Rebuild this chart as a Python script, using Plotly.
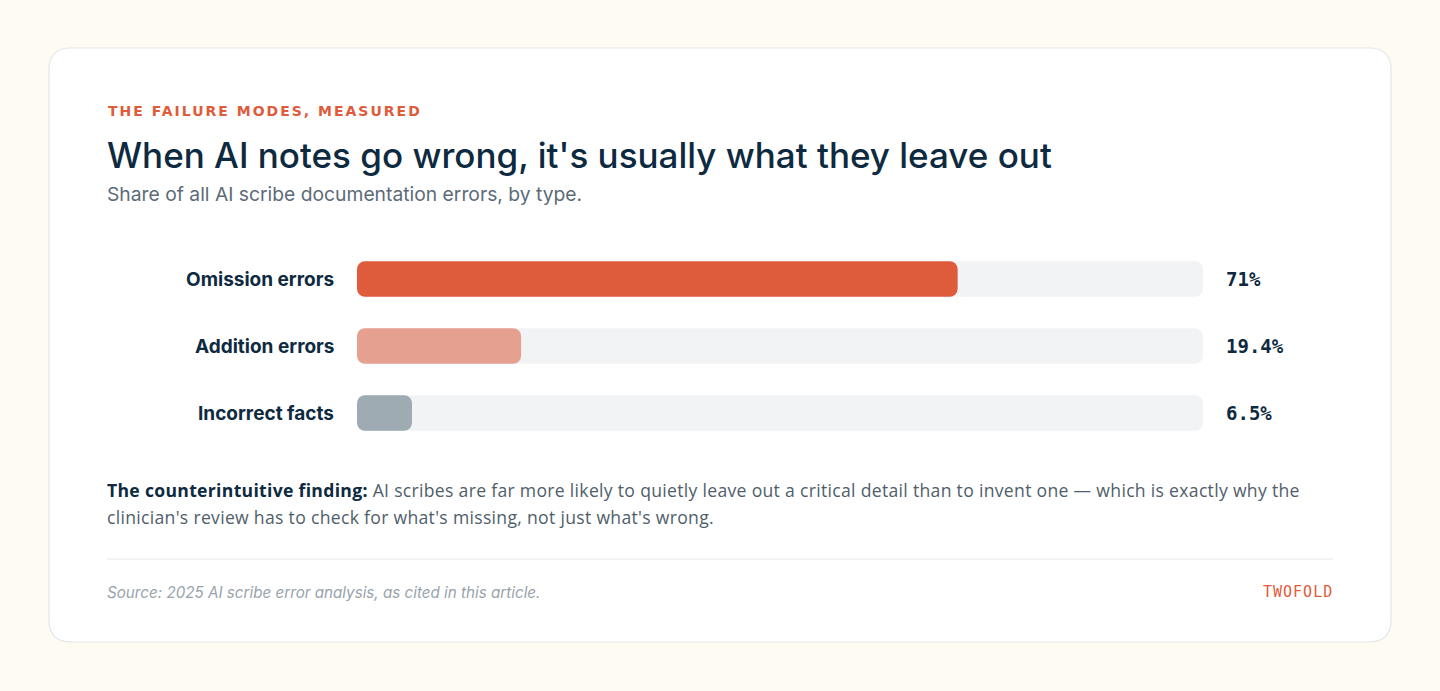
import plotly.graph_objects as go

W, H = 1440, 691

categories = ["Omission errors", "Addition errors", "Incorrect facts"]
values = [71, 19.4, 6.5]
value_labels = ["71%", "19.4%", "6.5%"]
bar_colors = ["#de5b3b", "#e6a08f", "#9eabb3"]
track_max = [100, 100, 100]

def px(x):
    return x / W

def py(y):
    return 1 - y / H

fig = go.Figure()

def rounded_bar(vals, colors):
    fig.add_trace(go.Bar(
        y=categories, x=vals, base=[0] * len(vals), orientation="h",
        marker=dict(color=colors, cornerradius=8, line=dict(width=0)),
        width=0.53, hoverinfo="skip", showlegend=False,
    ))

rounded_bar(track_max, "#f1f3f5")
rounded_bar(values, bar_colors)

navy = "#0d2a40"
orange = "#de5b3b"
body_color = "#4f5e6a"

annotations = []
for c, lab in zip(categories, value_labels):
    annotations.append(dict(
        x=0, y=c, xref="x", yref="y", xanchor="right", yanchor="middle",
        xshift=-21, text=f"<b>{c}</b>", showarrow=False,
        font=dict(family="Inter", size=19, color=navy),
    ))
    annotations.append(dict(
        x=100, y=c, xref="x", yref="y", xanchor="left", yanchor="middle",
        xshift=21, text=lab, showarrow=False,
        font=dict(family="DejaVu Sans Mono", size=19, color=navy, weight=600),
    ))

annotations += [
    dict(x=px(106), y=py(111), xref="paper", yref="paper", xanchor="left", yanchor="middle",
         text="<span style='letter-spacing:2px'><b>THE FAILURE MODES, MEASURED</b></span>", showarrow=False,
         font=dict(family="DejaVu Sans", size=14, color=orange)),
    dict(x=px(105), y=py(155), xref="paper", yref="paper", xanchor="left", yanchor="middle",
         text="When AI notes go wrong, it's usually what they leave out", showarrow=False,
         font=dict(family="Inter", size=35, color=navy, weight=500)),
    dict(x=px(105), y=py(194), xref="paper", yref="paper", xanchor="left", yanchor="middle",
         text="Share of all AI scribe documentation errors, by type.", showarrow=False,
         font=dict(family="Inter", size=19.3, color="#5c6b78")),
    dict(x=px(105), y=py(490), xref="paper", yref="paper", xanchor="left", yanchor="middle",
         text="<span style='letter-spacing:0.3px'><b><span style='color:%s'>The counterintuitive finding:</span></b> AI scribes are far more likely to quietly leave out a critical detail than to invent one — which is exactly why the</span>" % navy,
         showarrow=False, font=dict(family="Open Sans", size=17.6, color=body_color)),
    dict(x=px(105), y=py(517), xref="paper", yref="paper", xanchor="left", yanchor="middle",
         text="<span style='letter-spacing:0.3px'>clinician's review has to check for what's missing, not just what's wrong.</span>",
         showarrow=False, font=dict(family="Open Sans", size=17.6, color=body_color)),
    dict(x=px(105), y=py(592), xref="paper", yref="paper", xanchor="left", yanchor="middle",
         text="<i>Source: 2025 AI scribe error analysis, as cited in this article.</i>",
         showarrow=False, font=dict(family="Inter", size=15.2, color="#98a3ad")),
    dict(x=px(1335), y=py(592), xref="paper", yref="paper", xanchor="right", yanchor="middle",
         text="<span style='letter-spacing:1px'>TWOFOLD</span>", showarrow=False,
         font=dict(family="DejaVu Sans Mono", size=15, color=orange)),
]

x0, x1, y0, y1, r = 49, 1391, 48, 642, 22
pts = (
    f"M {px(x0 + r)} {py(y0)} L {px(x1 - r)} {py(y0)} "
    f"Q {px(x1)} {py(y0)} {px(x1)} {py(y0 + r)} "
    f"L {px(x1)} {py(y1 - r)} Q {px(x1)} {py(y1)} {px(x1 - r)} {py(y1)} "
    f"L {px(x0 + r)} {py(y1)} Q {px(x0)} {py(y1)} {px(x0)} {py(y1 - r)} "
    f"L {px(x0)} {py(y0 + r)} Q {px(x0)} {py(y0)} {px(x0 + r)} {py(y0)} Z"
)
shapes = [
    dict(type="path", path=pts, xref="paper", yref="paper",
         fillcolor="#ffffff", line=dict(color="#e3e6ea", width=1.2), layer="below"),
    dict(type="line", xref="paper", yref="paper", x0=px(107), x1=px(1333),
         y0=py(559), y1=py(559), line=dict(color="#e6e8eb", width=1)),
]

fig.update_layout(
    width=W, height=H,
    margin=dict(l=0, r=0, t=0, b=0),
    paper_bgcolor="#fefbf2",
    plot_bgcolor="rgba(0,0,0,0)",
    barmode="overlay",
    xaxis=dict(domain=[px(357), px(1203)], range=[0, 100], visible=False, fixedrange=True),
    yaxis=dict(domain=[py(446.5), py(245.5)], range=[2.5, -0.5], visible=False,
               categoryorder="array", categoryarray=categories, fixedrange=True),
    annotations=annotations,
    shapes=shapes,
)

fig.write_html("out.html")
